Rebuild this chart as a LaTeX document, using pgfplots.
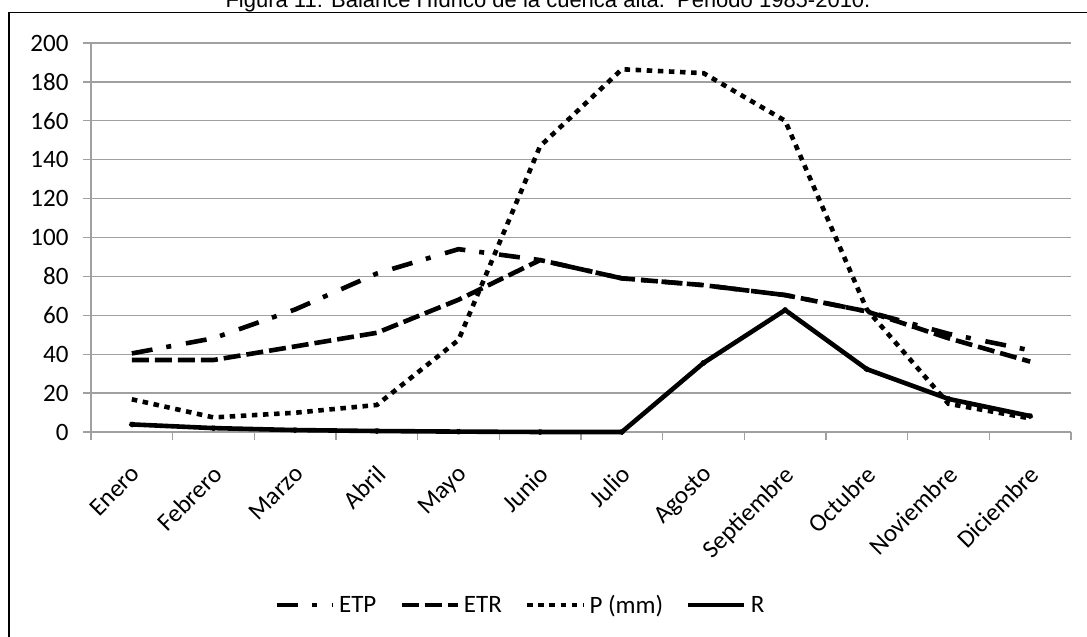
\documentclass[border=0pt]{standalone}
\usepackage{fontspec}
\setmainfont{Carlito}
\newfontfamily\arial{Liberation Sans}
\usepackage{pgfplots}
\pgfplotsset{compat=1.18}
\definecolor{gridgray}{RGB}{160,160,160}
\begin{document}
\begin{tikzpicture}
\useasboundingbox (0,0) rectangle (1087bp,637bp);
\draw[line width=1.6bp] (9bp,-5bp) -- (9bp,624.5bp) -- (1095bp,624.5bp);
\node[font=\arial\fontsize{22bp}{26bp}\selectfont, anchor=base] at (548bp,629.5bp) {Figura 11: Balance Hídrico de la cuenca alta.\ \ Periodo 1985-2010.};
\begin{axis}[
  scale only axis,
  width=980bp, height=389bp,
  at={(91bp,205bp)}, anchor=south west,
  xmin=0.5, xmax=12.5, ymin=0, ymax=200,
  axis x line=bottom, axis y line=left,
  axis line style={-, draw=gridgray, line width=1.3bp},
  tick align=outside,
  major tick length=8bp,
  tick style={draw=gridgray, line width=1.3bp},
  xtick={0.5,1.5,...,12.5},
  x tick label as interval,
  xticklabels={Enero,Febrero,Marzo,Abril,Mayo,Junio,Julio,Agosto,Septiembre,Octubre,Noviembre,Diciembre},
  ytick={0,20,...,200},
  ymajorgrids,
  grid style={draw=gridgray, line width=1.3bp},
  tick label style={font=\fontsize{25bp}{30bp}\selectfont},
  xticklabel style={xshift=-2bp, yshift=-21bp, rotate=45, anchor=north east, inner sep=2bp},
  yticklabel style={xshift=-11bp},
  /pgf/number format/assume math mode=true,
  clip=false,
  legend style={at={(0.187,-0.445)}, anchor=west, draw=none, fill=none, inner sep=0pt,
    font=\fontsize{25bp}{30bp}\selectfont, legend columns=4,
    /tikz/every even column/.append style={column sep=19bp},
    nodes={inner xsep=4bp}},
  legend image code/.code={\draw[#1] (0bp,0bp) -- (56bp,0bp);},
  every axis plot/.append style={line width=4.6bp, black, line cap=butt, line join=miter},
]
\addplot[dash pattern=on 21bp off 14bp on 5bp off 15bp] coordinates {
(1,40.4) (2,48.2) (3,63) (4,81.5) (5,94) (6,88.4) (7,79) (8,75.5) (9,70.4) (10,62) (11,50.5) (12,42)};
\addlegendentry{ETP}
\addplot[dash pattern=on 17bp off 6bp] coordinates {
(1,37) (2,37) (3,44) (4,51) (5,68) (6,88.4) (7,79) (8,75.5) (9,70.4) (10,62) (11,48.2) (12,36.2)};
\addlegendentry{ETR}
\addplot[dash pattern=on 5.5bp off 5.6bp] coordinates {
(1,16.8) (2,7.5) (3,9.9) (4,13.9) (5,47.3) (6,147) (7,186.5) (8,184.5) (9,160) (10,63) (11,14.5) (12,7)};
\addlegendentry{P (mm)}
\addplot coordinates {
(1,3.9) (2,2) (3,1) (4,0.5) (5,0.2) (6,0) (7,0) (8,35.5) (9,62.7) (10,32.3) (11,17) (12,8.2)};
\addlegendentry{R}
\end{axis}
\end{tikzpicture}
\end{document}
